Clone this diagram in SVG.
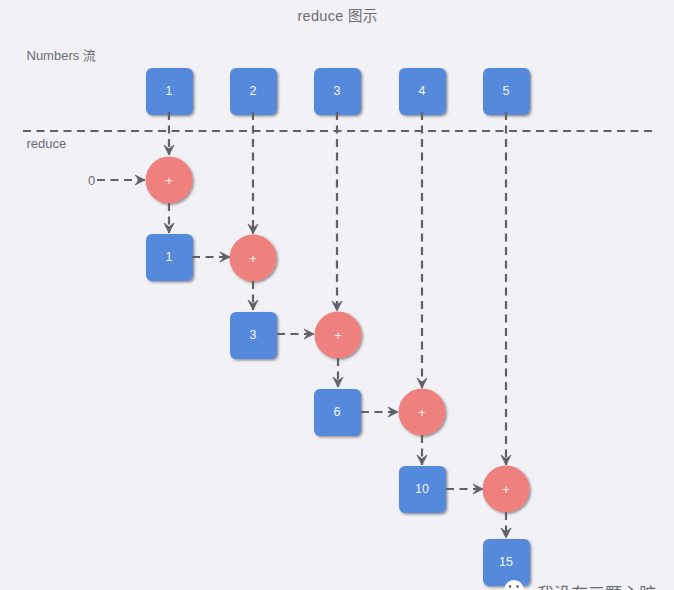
<svg xmlns="http://www.w3.org/2000/svg" width="674" height="590" viewBox="0 0 674 590">
<defs>
<marker id="a" markerUnits="userSpaceOnUse" markerWidth="14" markerHeight="14" refX="11" refY="7" orient="auto"><path d="M1 2L11 7L1 12L5 7Z" fill="#5f6068" stroke="#5f6068" stroke-width="0.800" stroke-linejoin="round"/></marker>
<filter id="s" x="-20%" y="-20%" width="150%" height="150%"><feDropShadow dx="1.500" dy="1.500" stdDeviation="1.200" flood-color="#333" flood-opacity="0.5"/></filter>
</defs>
<style>
text{font-family:"Liberation Sans","Noto Sans CJK SC",sans-serif}
.l{font-size:13px;fill:#6c6d74}
.n{font-size:12.500px;fill:#f2f6fc;text-anchor:middle}
.p{font-size:13px;fill:#f7f0ee;text-anchor:middle}
.b rect{fill:#5589dc;filter:url(#s)}
.c circle{fill:#ee817d;filter:url(#s)}
#connectors path{fill:none;stroke:#5f6068;stroke-width:2.200;stroke-dasharray:8 5.500}
.arrow{marker-end:url(#a)}
</style>
<rect width="674" height="590" fill="#f1f1f6"/>
<text x="337.500" y="21" font-size="14.500" fill="#6c6d74" text-anchor="middle" letter-spacing="0.300">reduce 图示</text>
<text class="l" x="26.500" y="60">Numbers 流</text>
<text class="l" x="26.500" y="148">reduce</text>
<text class="l" x="88" y="184.500">0</text>
<g id="n1" class="b"><rect x="146" y="68" width="47" height="47" rx="6"/><text class="n" x="169" y="95">1</text></g>
<g id="n2" class="b"><rect x="230" y="68" width="47" height="47" rx="6"/><text class="n" x="253" y="95">2</text></g>
<g id="n3" class="b"><rect x="314" y="68" width="47" height="47" rx="6"/><text class="n" x="337" y="95">3</text></g>
<g id="n4" class="b"><rect x="399" y="68" width="47" height="47" rx="6"/><text class="n" x="422" y="95">4</text></g>
<g id="n5" class="b"><rect x="483" y="68" width="47" height="47" rx="6"/><text class="n" x="506" y="95">5</text></g>
<g id="p1" class="c"><circle cx="169" cy="180" r="23.500"/><text class="p" x="169" y="184.500">+</text></g>
<g id="p2" class="c"><circle cx="253" cy="258" r="23.500"/><text class="p" x="253" y="262.500">+</text></g>
<g id="p3" class="c"><circle cx="338" cy="335" r="23.500"/><text class="p" x="338" y="339.500">+</text></g>
<g id="p4" class="c"><circle cx="422" cy="412" r="23.500"/><text class="p" x="422" y="416.500">+</text></g>
<g id="p5" class="c"><circle cx="506" cy="489" r="23.500"/><text class="p" x="506" y="493.500">+</text></g>
<g id="r1" class="b"><rect x="146" y="234" width="47" height="47" rx="6"/><text class="n" x="169" y="261">1</text></g>
<g id="r2" class="b"><rect x="230" y="312" width="47" height="47" rx="6"/><text class="n" x="253" y="339">3</text></g>
<g id="r3" class="b"><rect x="314" y="389" width="47" height="47" rx="6"/><text class="n" x="337" y="416">6</text></g>
<g id="r4" class="b"><rect x="399" y="466" width="47" height="47" rx="6"/><text class="n" x="422" y="493">10</text></g>
<g id="r5" class="b"><rect x="483" y="539" width="47" height="47" rx="6"/><text class="n" x="506" y="566">15</text></g>
<g id="connectors">
<path d="M23 131H654"/>
<path class="arrow" d="M169 112V155"/>
<path class="arrow" d="M253 112V234"/>
<path class="arrow" d="M337 112V311"/>
<path class="arrow" d="M422 112V388"/>
<path class="arrow" d="M506 112V465"/>
<path class="arrow" d="M97 180H145"/>
<path class="arrow" d="M169 203V233"/>
<path class="arrow" d="M192 257H230"/>
<path class="arrow" d="M253 281V310"/>
<path class="arrow" d="M277 334H314"/>
<path class="arrow" d="M338 358V387"/>
<path class="arrow" d="M361 412H398"/>
<path class="arrow" d="M422 435V465"/>
<path class="arrow" d="M446 489H483"/>
<path class="arrow" d="M506 512V538"/>
</g>
<g id="watermark">
<circle cx="514" cy="590" r="10" fill="#fdfdfd"/>
<circle cx="510" cy="586.500" r="1.200" fill="#555"/>
<circle cx="517.500" cy="586.500" r="1.200" fill="#555"/>
<text x="537" y="599.500" font-size="17" fill="#6c6d74">我没有三颗心脏</text>
</g>
</svg>
